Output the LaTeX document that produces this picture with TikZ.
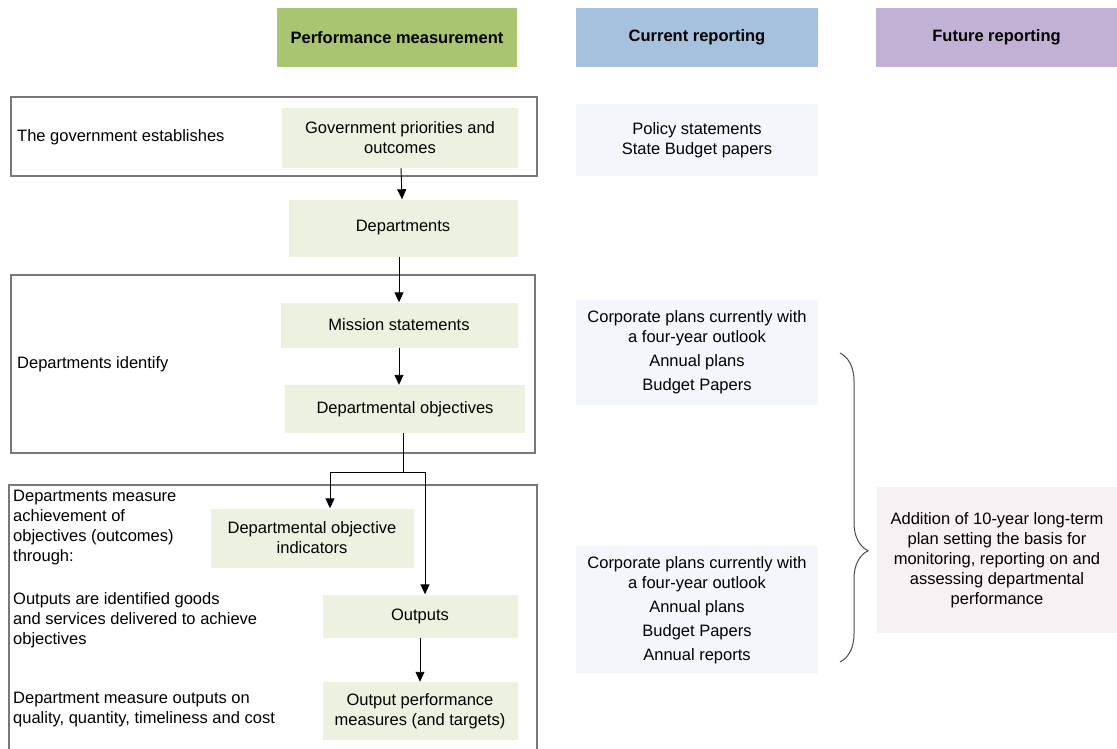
\documentclass[tikz,border=0pt]{standalone}
\usepackage{fontspec}
\setmainfont{Liberation Sans}
\usetikzlibrary{positioning}
\usetikzlibrary{arrows.meta, decorations.pathreplacing}

\definecolor{headgreen}{RGB}{170,197,112}
\definecolor{headblue}{RGB}{166,193,222}
\definecolor{headpurple}{RGB}{193,178,213}
\definecolor{stagegreen}{RGB}{237,242,224}
\definecolor{reportblue}{RGB}{243,246,251}
\definecolor{futurepink}{RGB}{247,241,244}
\definecolor{framegrey}{RGB}{125,118,118}

\newcommand{\diagfont}{\fontsize{16.5}{20}\selectfont}

\tikzset{
    head/.style={align=center, rectangle, inner sep=0pt, minimum height=59pt, font=\diagfont\bfseries},
    stage/.style={align=center, rectangle, inner sep=0pt, fill=stagegreen},
    report/.style={align=center, rectangle, inner sep=0pt, fill=reportblue, minimum width=242pt},
    note/.style={align=left, anchor=west, inner sep=0pt},
    frame/.style={draw=framegrey, line width=1.2pt},
    flow/.style={-{Triangle[length=10pt,width=9pt]}, line width=0.9pt},
}

\begin{document}
\begin{tikzpicture}[x=1pt, y=-1pt, font=\diagfont]
            \useasboundingbox (0,0) rectangle (1117,749);

            % column headers
            \node (pmhead) at (397,37.5) [head, fill=headgreen, minimum width=240pt]{Performance measurement};
            \node (currhead) at (697,37.5) [head, fill=headblue, minimum width=242pt]{Current reporting};
            \node (futhead) at (996.5,37.5) [head, fill=headpurple, minimum width=241pt]{Future reporting};

            % frames round the three groups
            \draw[frame] (11,97) rectangle (537,176);
            \draw[frame] (11,275) rectangle (535,453);
            \draw[frame] (9,485) rectangle (537,760);

            % performance measurement steps
            \node (gpo) at (400,138) [stage, minimum width=236pt, minimum height=60pt]{Government priorities and\\outcomes};
            \node (dept) at (403,228) [stage, minimum width=229pt, minimum height=57pt]{Departments};
            \node (mission) at (399,325) [stage, minimum width=237pt, minimum height=45pt]{Mission statements};
            \node (deptobj) at (405,409) [stage, minimum width=240pt, minimum height=48pt]{Departmental objectives};
            \node (doi) at (312,538) [stage, minimum width=203pt, minimum height=59pt]{Departmental objective\\indicators};
            \node (outputs) at (420,616) [stage, minimum width=195pt, minimum height=43pt]{Outputs};
            \node (opm) at (420,711) [stage, minimum width=195pt, minimum height=58pt]{Output performance\\measures (and targets)};

            \draw[flow] (gpo) -- (dept);
            \draw[flow] (dept.south -| mission) -- (mission);
            \draw[flow] (mission) -- (deptobj.north -| mission);
            \coordinate (fork) at (403,472);
            \draw[line width=0.9pt] (deptobj.south -| fork) -- (fork);
            \draw[flow] (fork) -| ([xshift=18pt]doi.north);
            \draw[flow] (fork) -| ([xshift=5pt]outputs.north);
            \draw[flow] (outputs) -- (opm);

            % left hand notes
            \node (govnote) at (17,137) [note]{The government establishes};
            \node (identnote) at (17,364) [note]{Departments identify};
            \node (measnote) at (13,528) [note]{Departments measure\\achievement of\\objectives (outcomes)\\through:};
            \node (outnote) at (13,620) [note]{Outputs are identified goods\\and services delivered to achieve\\objectives};
            \node (qualnote) at (13,710) [note]{Department measure outputs on\\quality, quantity, timeliness and cost};

            % current reporting
            \node (policy) at (697,140) [report, minimum height=72pt]{Policy statements\\State Budget papers};
            \node (corpone) at (697,352) [report, minimum height=105pt]{Corporate plans currently with\\a four-year outlook\\[4pt]Annual plans\\[4pt]Budget Papers};
            \node (corptwo) at (697,610) [report, minimum height=128pt]{Corporate plans currently with\\a four-year outlook\\[4pt]Annual plans\\[4pt]Budget Papers\\[4pt]Annual reports};

            % future reporting
            \coordinate (bracetop) at (840,353);
            \coordinate (bracebot) at (840,662);
            \draw[black!70, line width=1pt, decorate, decoration={brace, amplitude=28pt, aspect=0.64}] (bracetop) -- (bracebot);
            \node (future) at (997,560) [align=center, rectangle, inner sep=0pt, fill=futurepink, minimum width=240pt, minimum height=146pt]{Addition of 10-year long-term\\plan setting the basis for\\monitoring, reporting on and\\assessing departmental\\performance};

        \end{tikzpicture}
\end{document}
